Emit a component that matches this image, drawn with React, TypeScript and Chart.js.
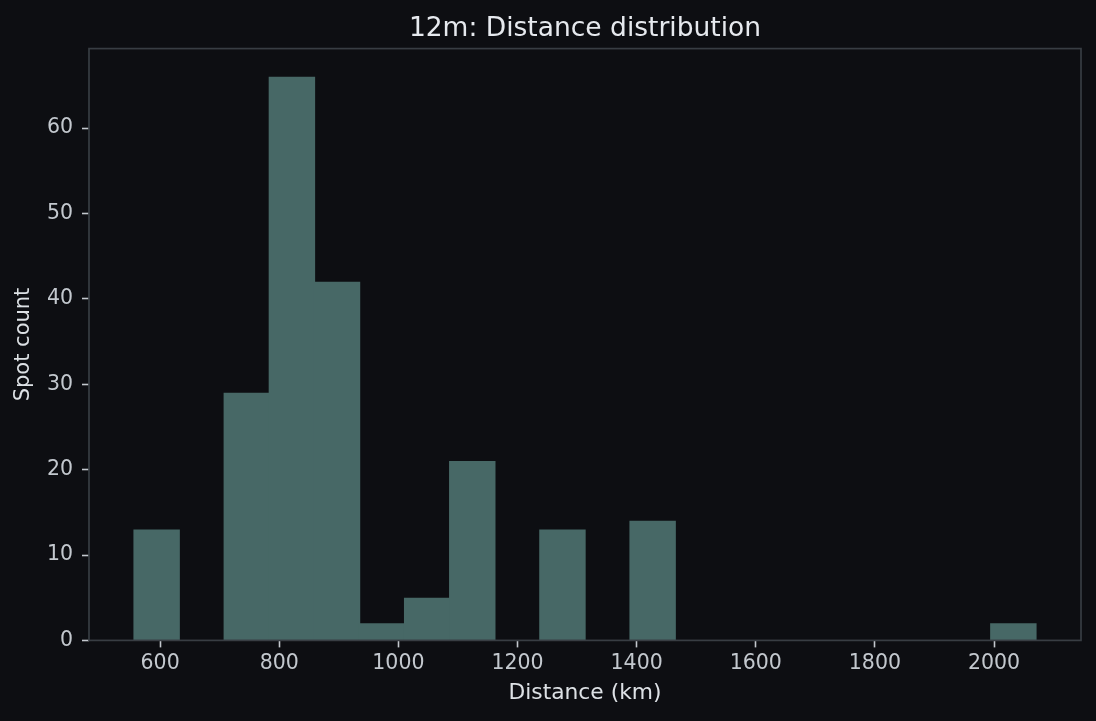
import React, { useEffect, useRef } from "react";
import { Chart, registerables } from "chart.js";

Chart.register(...registerables);

const TITLE = "12m: Distance distribution";
const X_LABEL = "Distance (km)";
const Y_LABEL = "Spot count";

// histogram bin edges (km) and counts per bin
const binEdges = [
  556.3, 632.0, 707.7, 783.4, 859.1, 934.8, 1010.5, 1086.2, 1161.9, 1237.6,
  1313.3, 1389.0, 1464.7, 1540.4, 1616.1, 1691.8, 1767.5, 1843.2, 1918.9,
  1994.6, 2070.3,
];
const counts = [13, 0, 29, 66, 42, 2, 5, 21, 0, 13, 0, 14, 0, 0, 0, 0, 0, 0, 0, 2];

const xTicks = [600, 800, 1000, 1200, 1400, 1600, 1800, 2000];
const yTicks = [0, 10, 20, 30, 40, 50, 60];

const X_MIN = 480.6;
const X_MAX = 2146.0;
const Y_MAX = 69.3;

const BG = "#0d0e12";
const BAR = "#476866";
const SPINE = "#383d43";
const TICK_TEXT = "#c3c8ce";
const LABEL_TEXT = "#dde1e5";
const TITLE_TEXT = "#e6e9ee";
const FONT = "'DejaVu Sans', sans-serif";

export default function App() {
  const ref = useRef<HTMLCanvasElement | null>(null);

  useEffect(() => {
    document.body.style.margin = "0";
    document.body.style.background = BG;
    const canvas = ref.current;
    if (!canvas) return;

    const points = counts.map((c, i) => ({
      x: (binEdges[i] + binEdges[i + 1]) / 2,
      y: c,
    }));

    const bgPlugin = {
      id: "bg",
      beforeDraw(chart: any) {
        const ctx = chart.ctx;
        ctx.save();
        ctx.fillStyle = BG;
        ctx.fillRect(0, 0, chart.width, chart.height);
        ctx.restore();
      },
      afterDatasetsDraw(chart: any) {
        const { left, right, top, bottom } = chart.chartArea;
        const ctx = chart.ctx;
        ctx.save();
        ctx.strokeStyle = SPINE;
        ctx.lineWidth = 1.7;
        ctx.strokeRect(left, top, right - left, bottom - top);
        ctx.restore();
      },
    };

    const chart = new Chart(canvas, {
      type: "bar",
      data: {
        datasets: [
          {
            data: points,
            backgroundColor: BAR,
            borderWidth: 0,
            barPercentage: 1.03,
            categoryPercentage: 1,
            inflateAmount: 0,
          } as any,
        ],
      },
      options: {
        responsive: false,
        animation: false,
        layout: { padding: { left: 0, right: 15, top: 0, bottom: 0 } },
        plugins: {
          legend: { display: false },
          tooltip: { enabled: false },
          title: {
            display: true,
            fullSize: false,
            text: TITLE,
            color: TITLE_TEXT,
            font: { family: FONT, size: 26.5, weight: "normal", lineHeight: 1.2 },
            padding: { top: 13.3, bottom: 3.5 },
          },
        },
        scales: {
          x: {
            type: "linear",
            min: X_MIN,
            max: X_MAX,
            offset: false,
            afterBuildTicks: (s: any) => {
              s.ticks = xTicks.map((v) => ({ value: v }));
            },
            afterFit: (s: any) => {
              s.height = 80.6;
            },
            ticks: {
              color: TICK_TEXT,
              font: { family: FONT, size: 20.5 },
              padding: 4,
              maxRotation: 0,
              autoSkip: false,
              callback: (v: any) => String(v),
            },
            grid: {
              display: true,
              offset: false,
              drawOnChartArea: false,
              drawTicks: true,
              tickLength: 7,
              tickColor: TICK_TEXT,
              tickWidth: 1.6,
            },
            border: { display: false },
            title: {
              display: true,
              text: X_LABEL,
              color: LABEL_TEXT,
              font: { family: FONT, size: 21.8, lineHeight: 1.2 },
              padding: { top: 0, bottom: 15 },
            },
          },
          y: {
            type: "linear",
            min: 0,
            max: Y_MAX,
            afterBuildTicks: (s: any) => {
              s.ticks = yTicks.map((v) => ({ value: v }));
            },
            afterFit: (s: any) => {
              s.width = 89;
            },
            ticks: {
              color: TICK_TEXT,
              font: { family: FONT, size: 20.5 },
              padding: 9,
              callback: (v: any) => String(v),
            },
            grid: {
              display: true,
              drawOnChartArea: false,
              drawTicks: true,
              tickLength: 7,
              tickColor: TICK_TEXT,
              tickWidth: 1.6,
            },
            border: { display: false },
            title: {
              display: true,
              text: Y_LABEL,
              color: LABEL_TEXT,
              font: { family: FONT, size: 21, lineHeight: 1.2 },
              padding: { top: 11, bottom: 0 },
            },
          },
        },
      },
      plugins: [bgPlugin],
    });

    return () => chart.destroy();
  }, []);

  return (
    <div style={{ width: 1096, height: 721, background: BG }}>
      <canvas ref={ref} width={1096} height={721} style={{ display: "block" }} />
    </div>
  );
}
